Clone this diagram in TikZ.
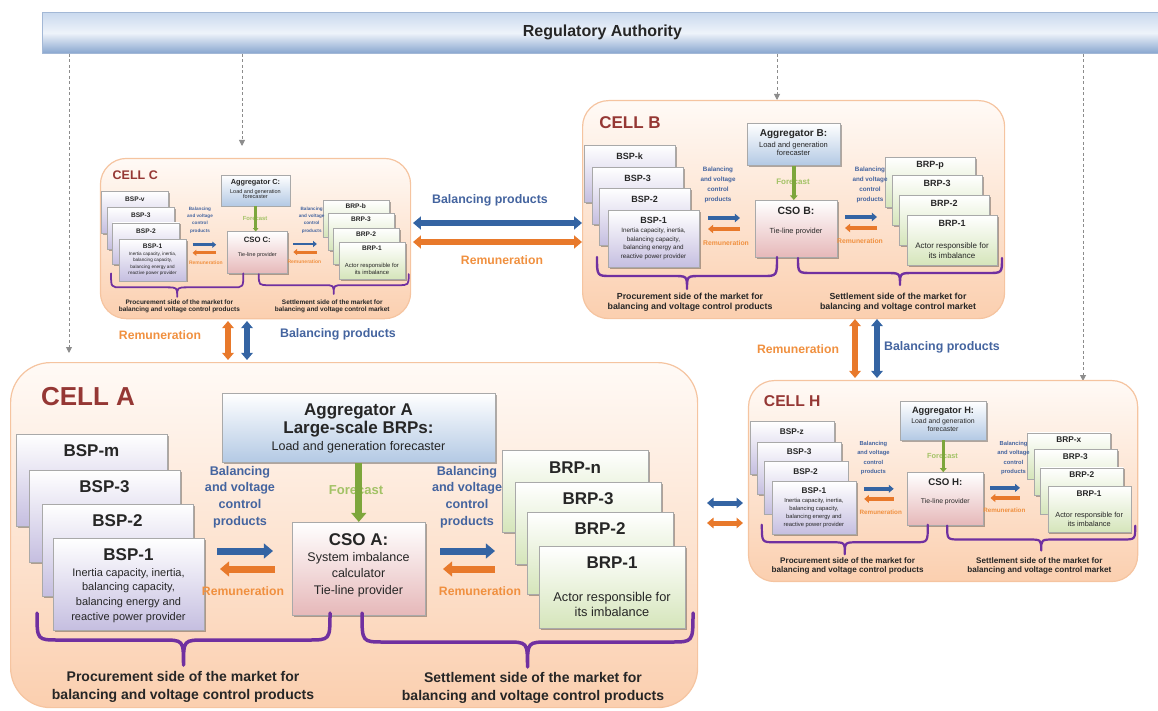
\documentclass[tikz,border=0pt]{standalone}
\usepackage{fontspec}
\setmainfont{Liberation Sans}
\usetikzlibrary{arrows.meta,shadows,calc}

\definecolor{cellTop}{HTML}{FFFAF6}
\definecolor{cellBot}{HTML}{FBCFAF}
\definecolor{cellEdge}{HTML}{F5C4A0}
\definecolor{titleRed}{HTML}{953734}
\definecolor{bspBot}{HTML}{C5BEE0}
\definecolor{brpBot}{HTML}{D5E5BA}
\definecolor{aggBot}{HTML}{B3C9E4}
\definecolor{csoBot}{HTML}{E6B8B9}
\definecolor{boxEdge}{HTML}{A9A9A9}
\definecolor{ink}{HTML}{262626}
\definecolor{prodBlue}{HTML}{3464A3}
\definecolor{prodBlueTxt}{HTML}{44649F}
\definecolor{remOrange}{HTML}{E8792B}
\definecolor{remOrangeTxt}{HTML}{F0903F}
\definecolor{fcGreen}{HTML}{7DA63C}
\definecolor{fcGreenTxt}{HTML}{A2C265}
\definecolor{bracePurple}{HTML}{7030A0}
\definecolor{regTop}{HTML}{C9D9EE}
\definecolor{regMid}{HTML}{EEF3FA}
\definecolor{regBot}{HTML}{88A6CF}
\definecolor{regEdge}{HTML}{A3B8D6}
\definecolor{dashGray}{HTML}{8C8C8C}

\newcommand{\fsz}[2]{\fontsize{#1}{#2}\selectfont}

\tikzset{
  txt/.style={inner sep=0pt, align=center},
  cellbox/.style={draw=cellEdge, line width=1.2pt, top color=cellTop, bottom color=cellBot,
    rounded corners=#1, inner sep=0pt, anchor=north west},
  card/.style={draw=boxEdge, line width=0.6pt, top color=white, inner sep=0pt, anchor=north west,
    drop shadow={shadow xshift=1.5pt, shadow yshift=-1.5pt, opacity=0.3, fill=black}},
  bspcard/.style={card, bottom color=bspBot},
  brpcard/.style={card, bottom color=brpBot},
  aggcard/.style={card, bottom color=aggBot},
  csocard/.style={card, bottom color=csoBot},
  regbar/.style={draw=regEdge, line width=0.8pt, top color=regTop, bottom color=regBot,
    middle color=regMid, inner sep=0pt, anchor=north west},
  ttl/.style={txt, text=ink, font=\bfseries\fsz{#1}{#1}},
  body/.style n args={2}{txt, text=ink, font=\fsz{#1}{#2}},
  sidelab/.style n args={2}{txt, text=ink, font=\bfseries\fsz{#1}{#2}},
  prodlab/.style n args={2}{txt, text=prodBlueTxt, font=\bfseries\fsz{#1}{#2}},
  remlab/.style={txt, text=remOrangeTxt, font=\bfseries\fsz{#1}{#1}},
  fclab/.style={txt, text=fcGreenTxt, font=\bfseries\fsz{#1}{#1}},
  celltitle/.style={txt, text=titleRed, font=\bfseries\fsz{#1}{#1}},
  blk/.style={line width=#1, -{Triangle[length=0pt 1.3, width=0pt 2.1]}},
  blkboth/.style={line width=#1, {Triangle[length=0pt 1.3, width=0pt 2.1]}-{Triangle[length=0pt 1.3, width=0pt 2.1]}},
  prod/.style={draw=prodBlue},
  rem/.style={draw=remOrange},
  fc/.style={draw=fcGreen},
  braceline/.style={draw=bracePurple, line width=#1, line cap=round, line join=round},
  ra/.style={draw=dashGray, line width=0.9pt, dash pattern=on 3pt off 2.5pt,
    -{Triangle[length=6pt, width=6pt]}},
}

% curly brace: left x, right x, y of the ends, y of the flat part, y of the tip, corner size, width
\newcommand{\groupbrace}[7]{%
  \draw[braceline=#7] (#1,#3) .. controls (#1,#4) .. ({#1+#6},#4)
    -- ({(#1+#2)/2-#6},#4) .. controls ({(#1+#2)/2},#4) .. ({(#1+#2)/2},#5)
    .. controls ({(#1+#2)/2},#4) .. ({(#1+#2)/2+#6},#4)
    -- ({#2-#6},#4) .. controls (#2,#4) .. (#2,#3);}

% compact cell: prefix, x, y, scale, cell letter, last BSP index, last BRP index
\newcommand{\smallcell}[7]{%
\begin{scope}[shift={(#2,#3)}, scale=#4, transform shape, name prefix=#1-]
  \node[cellbox=26pt, minimum width=422pt, minimum height=218pt] (cell) at (0,0) {};
  \node[celltitle=17] (title) at (48,23) {CELL #5};
  % balancing service providers, back to front
  \node[bspcard, minimum width=91pt, minimum height=57pt] (bspn) at (2,45) {};
  \node[ttl=9] (bspnt) at (47.5,56) {BSP-#6};
  \node[bspcard, minimum width=91pt, minimum height=57pt] (bsp3) at (10,67) {};
  \node[ttl=9] (bsp3t) at (55.5,78) {BSP-3};
  \node[bspcard, minimum width=91pt, minimum height=57pt] (bsp2) at (17,88) {};
  \node[ttl=9] (bsp2t) at (62.5,99) {BSP-2};
  \node[bspcard, minimum width=91pt, minimum height=57pt] (bsp1) at (26,110) {};
  \node[ttl=9] (bsp1t) at (71.5,120) {BSP-1};
  \node[body={6.3}{8.5}] (bsp1d) at (71.5,144) {Inertia capacity, inertia,\\balancing capacity,\\balancing energy and\\reactive power provider};
  % balance responsible parties, back to front
  \node[brpcard, minimum width=90pt, minimum height=50pt] (brpn) at (303,57) {};
  \node[ttl=9] (brpnt) at (348,65) {BRP-#7};
  \node[brpcard, minimum width=90pt, minimum height=50pt] (brp3) at (310,75) {};
  \node[ttl=9] (brp3t) at (355,83) {BRP-3};
  \node[brpcard, minimum width=90pt, minimum height=50pt] (brp2) at (317,95) {};
  \node[ttl=9] (brp2t) at (362,103) {BRP-2};
  \node[brpcard, minimum width=90pt, minimum height=50pt] (brp1) at (325,115) {};
  \node[ttl=9] (brp1t) at (370,123) {BRP-1};
  \node[body={8}{10}] (brp1d) at (370,151) {Actor responsible for\\its imbalance};
  % aggregator and cell system operator
  \node[aggcard, minimum width=93pt, minimum height=42pt] (agg) at (165,23) {};
  \node[ttl=10] (aggt) at (211.5,34) {Aggregator #5:};
  \node[body={7.5}{8}] (aggd) at (211.5,49) {Load and generation\\forecaster};
  \node[csocard, minimum width=82pt, minimum height=57pt] (cso) at (173,100) {};
  \node[ttl=10.5] (csot) at (214,111) {CSO #5:};
  \node[body={7.4}{8}] (csod) at (214,132) {Tie-line provider};
  \node[fclab=8] (fct) at (211,82) {Forecast};
  \draw[fc, blk={#4*3.5pt}] (agg.south) -- (agg.south |- cso.north);
  % product and payment flows
  \node[prodlab={6.3}{10}] (pl) at (136,84.5) {Balancing\\and voltage\\control\\products};
  \node[prodlab={6.3}{10}] (pr) at (288,84.5) {Balancing\\and voltage\\control\\products};
  \coordinate (pl1) at (126,118); \coordinate (pl2) at (158,118);
  \coordinate (rl1) at (158,129); \coordinate (rl2) at (126,129);
  \coordinate (pr1) at (263,117); \coordinate (pr2) at (295,117);
  \coordinate (rr1) at (295,128); \coordinate (rr2) at (263,128);
  \draw[prod, blk={#4*4pt}] (pl1) -- (pl2);
  \draw[rem, blk={#4*4pt}] (rl1) -- (rl2);
  \draw[prod, blk={#4*4pt}] (pr1) -- (pr2);
  \draw[rem, blk={#4*4pt}] (rr1) -- (rr2);
  \node[remlab=6.8] (rlt) at (144,143) {Remuneration};
  \node[remlab=6.8] (rrt) at (278,141) {Remuneration};
  % market sides
  \groupbrace{15}{195}{157}{176}{189}{14}{#4*2.4pt}
  \groupbrace{216}{420}{158}{173}{185}{14}{#4*2.4pt}
  \node[sidelab={8.8}{10}] (proc) at (108,202) {Procurement side of the market for\\balancing and voltage control products};
  \node[sidelab={8.8}{10}] (sett) at (316,202) {Settlement side of the market for\\balancing and voltage control market};
\end{scope}}

\begin{document}
\begin{tikzpicture}[x=1pt,y=-1pt]
\useasboundingbox (0,0) rectangle (1158,711);

% regulator bar and its supervision links
\node[regbar, minimum width=1120pt, minimum height=41pt, font=\bfseries\fsz{16}{16}, text=ink] (reg) at (42,12) {Regulatory Authority};
\coordinate (tipA) at (69,353);
\coordinate (tipC) at (242,146);
\coordinate (tipB) at (777,100);
\coordinate (tipH) at (1083,381);
\draw[ra] (reg.south -| tipA) -- (tipA);
\draw[ra] (reg.south -| tipC) -- (tipC);
\draw[ra] (reg.south -| tipB) -- (tipB);
\draw[ra] (reg.south -| tipH) -- (tipH);

% compact cells
\smallcell{C}{100}{158}{0.735}{C}{v}{b}
\smallcell{B}{582}{100}{1}{B}{k}{p}
\smallcell{H}{748}{380}{0.922}{H}{z}{x}

% cell A
\node[cellbox=40pt, minimum width=687pt, minimum height=345pt] (A-cell) at (10,362) {};
\node[celltitle=26] (A-title) at (88,397) {CELL A};

\node[bspcard, minimum width=151pt, minimum height=92pt] (A-bspn) at (16,434) {};
\node[ttl=17] (A-bspnt) at (91.5,451) {BSP-m};
\node[bspcard, minimum width=151pt, minimum height=92pt] (A-bsp3) at (29,470) {};
\node[ttl=17] (A-bsp3t) at (104.5,487) {BSP-3};
\node[bspcard, minimum width=151pt, minimum height=92pt] (A-bsp2) at (42,504) {};
\node[ttl=17] (A-bsp2t) at (117.5,521) {BSP-2};
\node[bspcard, minimum width=151pt, minimum height=92pt] (A-bsp1) at (53,538) {};
\node[ttl=17] (A-bsp1t) at (128.5,555) {BSP-1};
\node[body={11}{14.8}] (A-bsp1d) at (128.5,595.5) {Inertia capacity, inertia,\\balancing capacity,\\balancing energy and\\reactive power provider};

\node[brpcard, minimum width=146pt, minimum height=82pt] (A-brpn) at (502,450) {};
\node[ttl=17] (A-brpnt) at (575,468) {BRP-n};
\node[brpcard, minimum width=146pt, minimum height=82pt] (A-brp3) at (515,482) {};
\node[ttl=17] (A-brp3t) at (588,499) {BRP-3};
\node[brpcard, minimum width=146pt, minimum height=82pt] (A-brp2) at (527,512) {};
\node[ttl=17] (A-brp2t) at (600,529) {BRP-2};
\node[brpcard, minimum width=146pt, minimum height=82pt] (A-brp1) at (539,546) {};
\node[ttl=17] (A-brp1t) at (612,563) {BRP-1};
\node[body={12.8}{15}] (A-brp1d) at (612,604.5) {Actor responsible for\\its imbalance};

\node[aggcard, minimum width=273pt, minimum height=69pt] (A-agg) at (222,393) {};
\node[sidelab={17}{18}] (A-aggt) at (358.5,420) {Aggregator A\\Large-scale BRPs:};
\node[body={12.5}{14}] (A-aggd) at (358.5,447) {Load and generation forecaster};
\node[csocard, minimum width=133pt, minimum height=93pt] (A-cso) at (292,522) {};
\node[ttl=17] (A-csot) at (358.5,540) {CSO A:};
\node[body={12.5}{16.5}] (A-csod) at (358.5,574.5) {System imbalance\\calculator\\Tie-line provider};
\node[fclab=13] (A-fct) at (356,490) {Forecast};
\draw[fc, blk=7pt] (A-agg.south) -- (A-agg.south |- A-cso.north);

\node[prodlab={12.6}{16.7}] (A-pl) at (240,497) {Balancing\\and voltage\\control\\products};
\node[prodlab={12.6}{16.7}] (A-pr) at (467,497) {Balancing\\and voltage\\control\\products};
\coordinate (A-pl1) at (217,551); \coordinate (A-pl2) at (273,551);
\coordinate (A-rl1) at (275,569); \coordinate (A-rl2) at (220,569);
\coordinate (A-pr1) at (440,551); \coordinate (A-pr2) at (495,551);
\coordinate (A-rr1) at (495,569); \coordinate (A-rr2) at (443,569);
\draw[prod, blk=7pt] (A-pl1) -- (A-pl2);
\draw[rem, blk=7pt] (A-rl1) -- (A-rl2);
\draw[prod, blk=7pt] (A-pr1) -- (A-pr2);
\draw[rem, blk=7pt] (A-rr1) -- (A-rr2);
\node[remlab=12.2] (A-rlt) at (243,591) {Remuneration};
\node[remlab=12.2] (A-rrt) at (480,591) {Remuneration};

\groupbrace{37}{330}{613}{640}{665}{22}{3.5pt}
\groupbrace{362}{693}{613}{642}{667}{22}{3.5pt}
\node[sidelab={14}{18}] (A-proc) at (183,687) {Procurement side of the market for\\balancing and voltage control products};
\node[sidelab={14}{18}] (A-sett) at (533,687.5) {Settlement side of the market for\\balancing and voltage control products};

% exchanges between neighbouring cells
\coordinate (cbP1) at (413,223); \coordinate (cbP2) at (582,223);
\coordinate (cbR1) at (413,242); \coordinate (cbR2) at (582,242);
\draw[prod, blkboth=6pt] (cbP1) -- (cbP2);
\draw[rem, blkboth=6pt] (cbR1) -- (cbR2);
\node[prodlab={12.4}{12.4}] (cbPt) at (490,200) {Balancing products};
\node[remlab=12.2] (cbRt) at (502,260) {Remuneration};

\coordinate (caR1) at (228,321); \coordinate (caR2) at (228,360);
\coordinate (caP1) at (247,321); \coordinate (caP2) at (247,360);
\draw[rem, blkboth=5.5pt] (caR1) -- (caR2);
\draw[prod, blkboth=5.5pt] (caP1) -- (caP2);
\node[remlab=12.2] (caRt) at (160,335) {Remuneration};
\node[prodlab={12.4}{12.4}] (caPt) at (338,334) {Balancing products};

\coordinate (bhR1) at (855,319); \coordinate (bhR2) at (855,378);
\coordinate (bhP1) at (877,319); \coordinate (bhP2) at (877,378);
\draw[rem, blkboth=5.5pt] (bhR1) -- (bhR2);
\draw[prod, blkboth=5.5pt] (bhP1) -- (bhP2);
\node[remlab=12.2] (bhRt) at (798,349) {Remuneration};
\node[prodlab={12.4}{12.4}] (bhPt) at (942,347) {Balancing products};

\coordinate (ahP1) at (707,503); \coordinate (ahP2) at (743,503);
\coordinate (ahR1) at (707,523); \coordinate (ahR2) at (743,523);
\draw[prod, blkboth=5pt] (ahP1) -- (ahP2);
\draw[rem, blkboth=5pt] (ahR1) -- (ahR2);
\end{tikzpicture}
\end{document}
